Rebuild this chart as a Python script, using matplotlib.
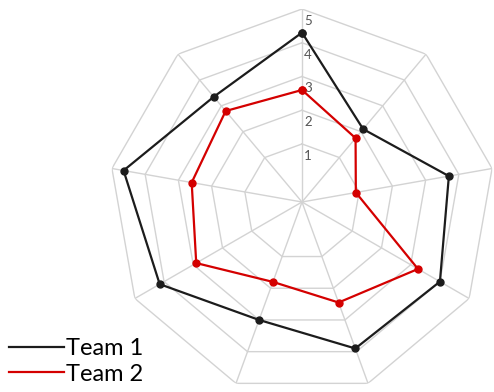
"""Radar chart comparing two teams across nine unnamed criteria."""

import matplotlib
import numpy as np

matplotlib.use("Agg")
import matplotlib.pyplot as plt  # noqa: E402
from matplotlib import transforms  # noqa: E402

# nine spokes, clockwise from the top
team_1 = [4.3, 2.1, 3.7, 4.0, 3.9, 3.0, 4.15, 4.65, 3.35]
team_2 = [2.6, 1.75, 0.9, 3.25, 2.45, 1.8, 2.9, 2.6, 2.8]
ring_values = [1, 2, 3, 4, 5]
series_names = ["Team 1", "Team 2"]
series_colors = ["#1c1c1c", "#d40000"]

R_MIN = -0.72  # value that sits at the centre of the web
R_MAX = 5
GRID = "#d3d3d3"

plt.rcParams["font.family"] = ["Lato", "DejaVu Sans"]

fig = plt.figure(figsize=(4.94, 3.92), dpi=100)
fig.patch.set_facecolor("white")

# centre at (302, 202) px, radius 193 px
cx, cy, rad = 302 / 494, 1 - 202 / 392, 193
ax = fig.add_axes(
    [cx - rad / 494, cy - rad / 392, 2 * rad / 494, 2 * rad / 392],
    projection="polar",
)
ax.set_theta_offset(np.pi / 2)
ax.set_theta_direction(-1)
ax.set_ylim(R_MIN, R_MAX)
ax.grid(False)
ax.spines["polar"].set_visible(False)
ax.set_xticks([])
ax.set_yticks([])
ax.patch.set_alpha(0)

n = len(team_1)
angles = np.linspace(0, 2 * np.pi, n, endpoint=False)
closed = np.append(angles, angles[0])

# polygon web
for value in ring_values:
    ax.plot(closed, [value] * (n + 1), color=GRID, linewidth=1.0, zorder=1)
for angle in angles:
    ax.plot([angle, angle], [R_MIN, R_MAX], color=GRID, linewidth=1.0, zorder=1)

# ring labels just inside each ring on the top spoke
label_tf = transforms.offset_copy(ax.transData, fig=fig, x=6, y=-12, units="dots")
for value in ring_values:
    ax.text(0, value, str(value), transform=label_tf, ha="center", va="center",
            fontsize=9.5, color="#555555", zorder=2)

for values, name, color in zip([team_1, team_2], series_names, series_colors):
    values = np.append(values, values[0])
    ax.plot(closed, values, color=color, linewidth=1.6, label=name, zorder=3)
    ax.plot(closed, values, linestyle="none", marker="o", markersize=5,
            color=color, zorder=4)

handles, labels = ax.get_legend_handles_labels()
fig.legend(
    handles, labels,
    loc="lower left",
    bbox_to_anchor=(0.0, -0.005),
    frameon=False,
    fontsize=17,
    handlelength=2.3,
    handletextpad=0.1,
    labelspacing=0.2,
    borderaxespad=0.0,
)

fig.savefig("out.png", dpi=100, facecolor="white")
plt.close(fig)
